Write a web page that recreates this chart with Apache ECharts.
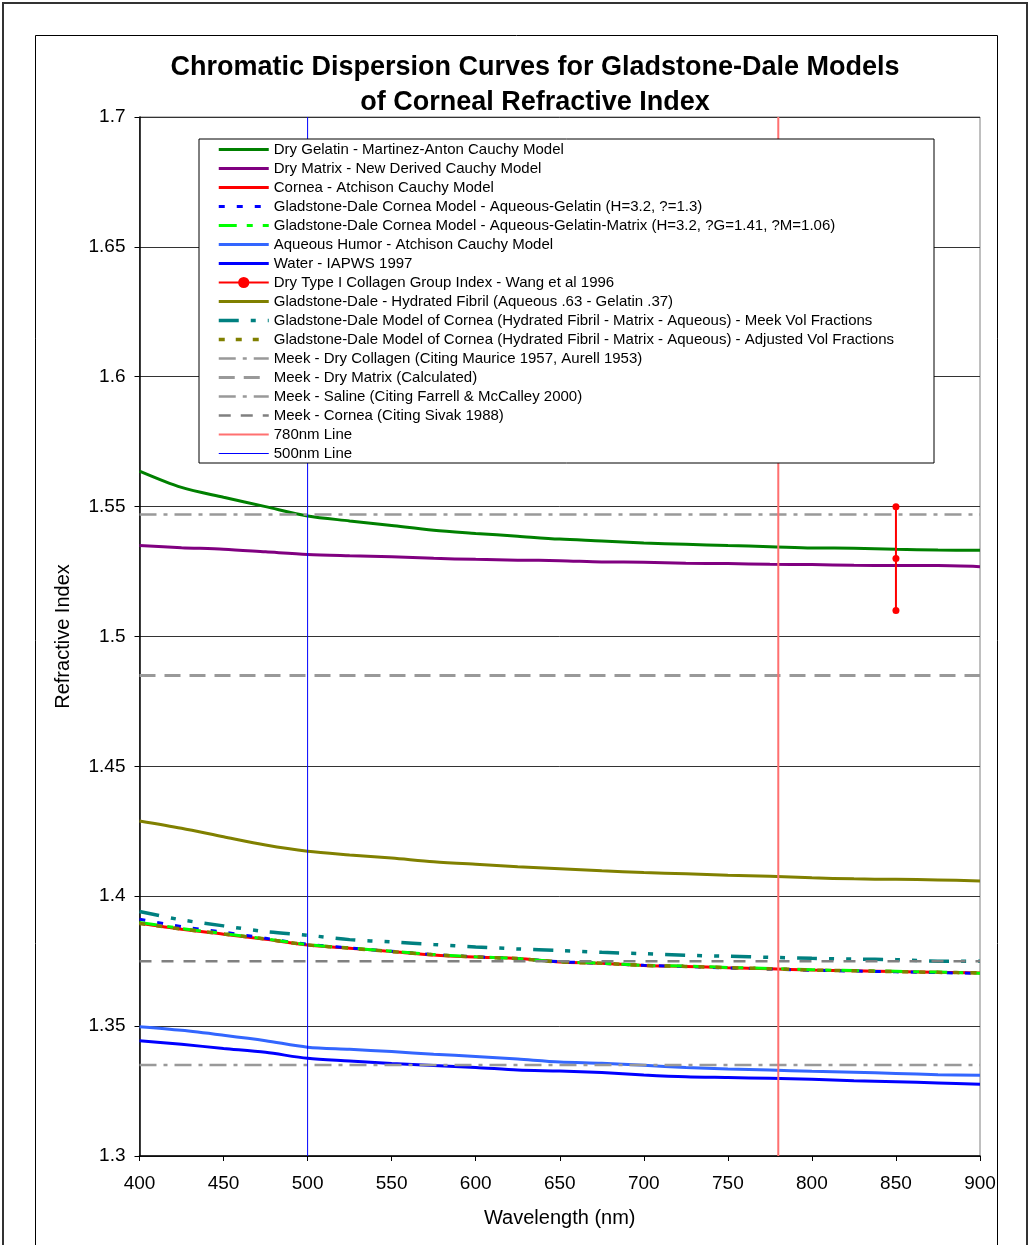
<!DOCTYPE html>
<html>
<head>
<meta charset="utf-8">
<script src="https://cdn.jsdelivr.net/npm/echarts@6/dist/echarts.min.js"></script>
<style>
  html, body { margin: 0; padding: 0; background: #fff; }
  #chart { width: 1030px; height: 1245px; }
</style>
</head>
<body>
<div id="chart"></div>
<script>
// wavelength samples (nm)
const wavelengths = [400, 425, 450, 475, 500, 525, 550, 575, 600, 625, 650, 675, 700, 725, 750, 775, 800, 825, 850, 875, 900]

// refractive index curves
const dryGelatin = [1.5637, 1.5574, 1.5536, 1.5500, 1.5464, 1.5445, 1.5427, 1.5409, 1.5397, 1.5386, 1.5375, 1.5368, 1.5360, 1.5355, 1.5350, 1.5346, 1.5341, 1.5340, 1.5336, 1.5333, 1.5332]
const dryMatrix = [1.5350, 1.5342, 1.5336, 1.5326, 1.5316, 1.5311, 1.5307, 1.5301, 1.5297, 1.5294, 1.5292, 1.5287, 1.5286, 1.5282, 1.5281, 1.5278, 1.5277, 1.5274, 1.5273, 1.5273, 1.5269]
const cornea = [1.3896, 1.3873, 1.3854, 1.3834, 1.3812, 1.3800, 1.3787, 1.3774, 1.3766, 1.3760, 1.3747, 1.3742, 1.3733, 1.3730, 1.3725, 1.3721, 1.3716, 1.3713, 1.3710, 1.3707, 1.3705]
const gdAqueousGelatin = [1.3912, 1.3883, 1.3862, 1.3838, 1.3815, 1.3801, 1.3788, 1.3775, 1.3767, 1.3760, 1.3748, 1.3742, 1.3734, 1.3730, 1.3724, 1.3720, 1.3715, 1.3712, 1.3709, 1.3706, 1.3703]
const gdAqueousGelatinMatrix = [1.3899, 1.3876, 1.3856, 1.3836, 1.3814, 1.3801, 1.3788, 1.3776, 1.3767, 1.3760, 1.3748, 1.3742, 1.3734, 1.3731, 1.3726, 1.3722, 1.3717, 1.3714, 1.3711, 1.3708, 1.3704]
const aqueousHumor = [1.3498, 1.3484, 1.3465, 1.3444, 1.3419, 1.3411, 1.3402, 1.3392, 1.3383, 1.3373, 1.3362, 1.3357, 1.3349, 1.3341, 1.3335, 1.3331, 1.3326, 1.3322, 1.3318, 1.3313, 1.3311]
const water = [1.3444, 1.3430, 1.3414, 1.3399, 1.3376, 1.3366, 1.3356, 1.3348, 1.3341, 1.3331, 1.3327, 1.3321, 1.3312, 1.3305, 1.3302, 1.3299, 1.3295, 1.3290, 1.3286, 1.3281, 1.3276]
const hydratedFibril = [1.4290, 1.4262, 1.4229, 1.4197, 1.4173, 1.4159, 1.4147, 1.4133, 1.4123, 1.4114, 1.4106, 1.4098, 1.4091, 1.4087, 1.4081, 1.4077, 1.4071, 1.4067, 1.4065, 1.4063, 1.4059]
const meekVolFractions = [1.3941, 1.3909, 1.3886, 1.3864, 1.3850, 1.3833, 1.3824, 1.3814, 1.3805, 1.3797, 1.3791, 1.3784, 1.3779, 1.3773, 1.3769, 1.3765, 1.3761, 1.3758, 1.3756, 1.3750, 1.3750]
const adjustedVolFractions = [1.3895, 1.3874, 1.3855, 1.3835, 1.3813, 1.3800, 1.3787, 1.3775, 1.3766, 1.3760, 1.3747, 1.3742, 1.3734, 1.3730, 1.3725, 1.3721, 1.3716, 1.3713, 1.3710, 1.3707, 1.3705]

// Wang et al 1996 group index points
const wangWavelength = [850, 850, 850]
const wangIndex = [1.55, 1.53, 1.51]

// Meek constant levels
const meekDryCollagen = 1.547
const meekDryMatrix = 1.485
const meekSaline = 1.335
const meekCornea = 1.375
const levelSpan = [400, 900]

// marker lines
const line780 = 780
const line500 = 500
const yRange = [1.3, 1.7]

const wangName = 'Dry Type I Collagen Group Index - Wang et al 1996'

const pairs = (ys) => wavelengths.map((w, i) => [w, ys[i]])
const level = (v) => levelSpan.map(w => [w, v])
const vline = (w) => yRange.map(v => [w, v])

function curve (name, ys, color, type, width) {
  return {
    name: name,
    type: 'line',
    data: pairs(ys),
    showSymbol: false,
    symbol: 'none',
    smooth: 0.3,
    color: color,
    lineStyle: { color: color, width: width || 3, type: type || 'solid' }
  }
}

function straight (name, data, color, type, width) {
  return {
    name: name,
    type: 'line',
    data: data,
    symbol: 'none',
    color: color,
    lineStyle: { color: color, width: width, type: type }
  }
}

const fontFamily = '"Liberation Sans", Arial, sans-serif'
const chart = echarts.init(document.getElementById('chart'))

const seriesList = [
  curve('Dry Gelatin - Martinez-Anton Cauchy Model', dryGelatin, '#008000'),
  curve('Dry Matrix - New Derived Cauchy Model', dryMatrix, '#800080'),
  curve('Cornea - Atchison Cauchy Model', cornea, '#ff0000'),
  curve('Gladstone-Dale Cornea Model - Aqueous-Gelatin (H=3.2, ?=1.3)', gdAqueousGelatin, '#0000ff', [6, 12], 3),
  curve('Gladstone-Dale Cornea Model - Aqueous-Gelatin-Matrix (H=3.2, ?G=1.41, ?M=1.06)', gdAqueousGelatinMatrix, '#00ff00', [18, 10, 6, 10], 3),
  curve('Aqueous Humor - Atchison Cauchy Model', aqueousHumor, '#3366ff'),
  curve('Water - IAPWS 1997', water, '#0000ff'),
  {
    name: wangName,
    type: 'line',
    data: wangWavelength.map((w, i) => [w, wangIndex[i]]),
    symbol: 'circle',
    symbolSize: 7,
    color: '#ff0000',
    itemStyle: { color: '#ff0000' },
    lineStyle: { color: '#ff0000', width: 2 }
  },
  curve('Gladstone-Dale - Hydrated Fibril (Aqueous .63 - Gelatin .37)', hydratedFibril, '#808000'),
  curve('Gladstone-Dale Model of Cornea (Hydrated Fibril - Matrix - Aqueous) - Meek Vol Fractions', meekVolFractions, '#008080', [20, 12, 5, 12, 5, 12], 3.5),
  curve('Gladstone-Dale Model of Cornea (Hydrated Fibril - Matrix - Aqueous) - Adjusted Vol Fractions', adjustedVolFractions, '#808000', [6, 11], 3.5),
  straight('Meek - Dry Collagen (Citing Maurice 1957, Aurell 1953)', level(meekDryCollagen), '#999999', [17, 7, 4, 7], 2.5),
  straight('Meek - Dry Matrix (Calculated)', level(meekDryMatrix), '#999999', [16, 9], 3),
  straight('Meek - Saline (Citing Farrell & McCalley 2000)', level(meekSaline), '#999999', [17, 7, 4, 7], 2.5),
  straight('Meek - Cornea (Citing Sivak 1988)', level(meekCornea), '#808080', [12, 10], 2.5),
  straight('780nm Line', vline(line780), '#ff7070', 'solid', 2),
  straight('500nm Line', vline(line500), '#0000ff', 'solid', 1)
]

// only the Wang entry keeps its dot in the legend; line colour/width follow the series
const legendData = seriesList.map(s => s.name === wangName
  ? { name: s.name, lineStyle: { width: 2, color: '#ff0000' } }
  : { name: s.name, itemStyle: { opacity: 0 }, lineStyle: { width: s.lineStyle.width, color: s.lineStyle.color, type: s.lineStyle.type } })

const option = {
  animation: false,
  backgroundColor: '#fff',
  title: {
    text: 'Chromatic Dispersion Curves for Gladstone-Dale Models\nof Corneal Refractive Index',
    left: 530,
    textAlign: 'center',
    top: 45,
    textStyle: { fontFamily: fontFamily, fontSize: 27, fontWeight: 'bold', lineHeight: 35, color: '#000' }
  },
  graphic: [
    { type: 'rect', z: -10, shape: { x: 3, y: 3, width: 1024, height: 1270 }, style: { fill: null, stroke: '#333', lineWidth: 2 } },
    { type: 'rect', z: -10, shape: { x: 35.5, y: 35.5, width: 962, height: 1260 }, style: { fill: null, stroke: '#000', lineWidth: 1 } }
  ],
  grid: {
    left: 139.5,
    right: 50,
    top: 117,
    bottom: 89,
    show: true,
    borderColor: '#808080',
    borderWidth: 1
  },
  legend: {
    orient: 'vertical',
    left: 199,
    top: 139,
    itemWidth: 50,
    itemHeight: 14,
    itemGap: 4,
    padding: [3, 40, 2, 18],
    backgroundColor: '#fff',
    borderColor: '#000',
    borderWidth: 1,
    data: legendData,
    textStyle: { fontFamily: fontFamily, fontSize: 15, lineHeight: 14, color: '#000' }
  },
  xAxis: {
    type: 'value',
    min: 400,
    max: 900,
    interval: 50,
    name: 'Wavelength (nm)',
    nameLocation: 'middle',
    nameGap: 52,
    nameTextStyle: { fontFamily: fontFamily, fontSize: 20, color: '#000' },
    axisLine: { lineStyle: { color: '#000', width: 1.5 } },
    axisTick: { show: true, length: 5, lineStyle: { color: '#000' } },
    axisLabel: { fontFamily: fontFamily, fontSize: 19, color: '#000', margin: 18 },
    splitLine: { show: false }
  },
  yAxis: {
    type: 'value',
    min: 1.3,
    max: 1.7,
    interval: 0.05,
    name: 'Refractive Index',
    nameLocation: 'middle',
    nameGap: 66,
    nameTextStyle: { fontFamily: fontFamily, fontSize: 20, color: '#000' },
    axisLine: { show: true, lineStyle: { color: '#000', width: 1.5 } },
    axisTick: { show: true, length: 5, lineStyle: { color: '#000' } },
    axisLabel: {
      fontFamily: fontFamily,
      fontSize: 19,
      color: '#000',
      margin: 14,
      formatter: (v) => String(+v.toFixed(2))
    },
    splitLine: { show: true, lineStyle: { color: '#333', width: 1 } }
  },
  series: seriesList
}

chart.setOption(option)
</script>
</body>
</html>
